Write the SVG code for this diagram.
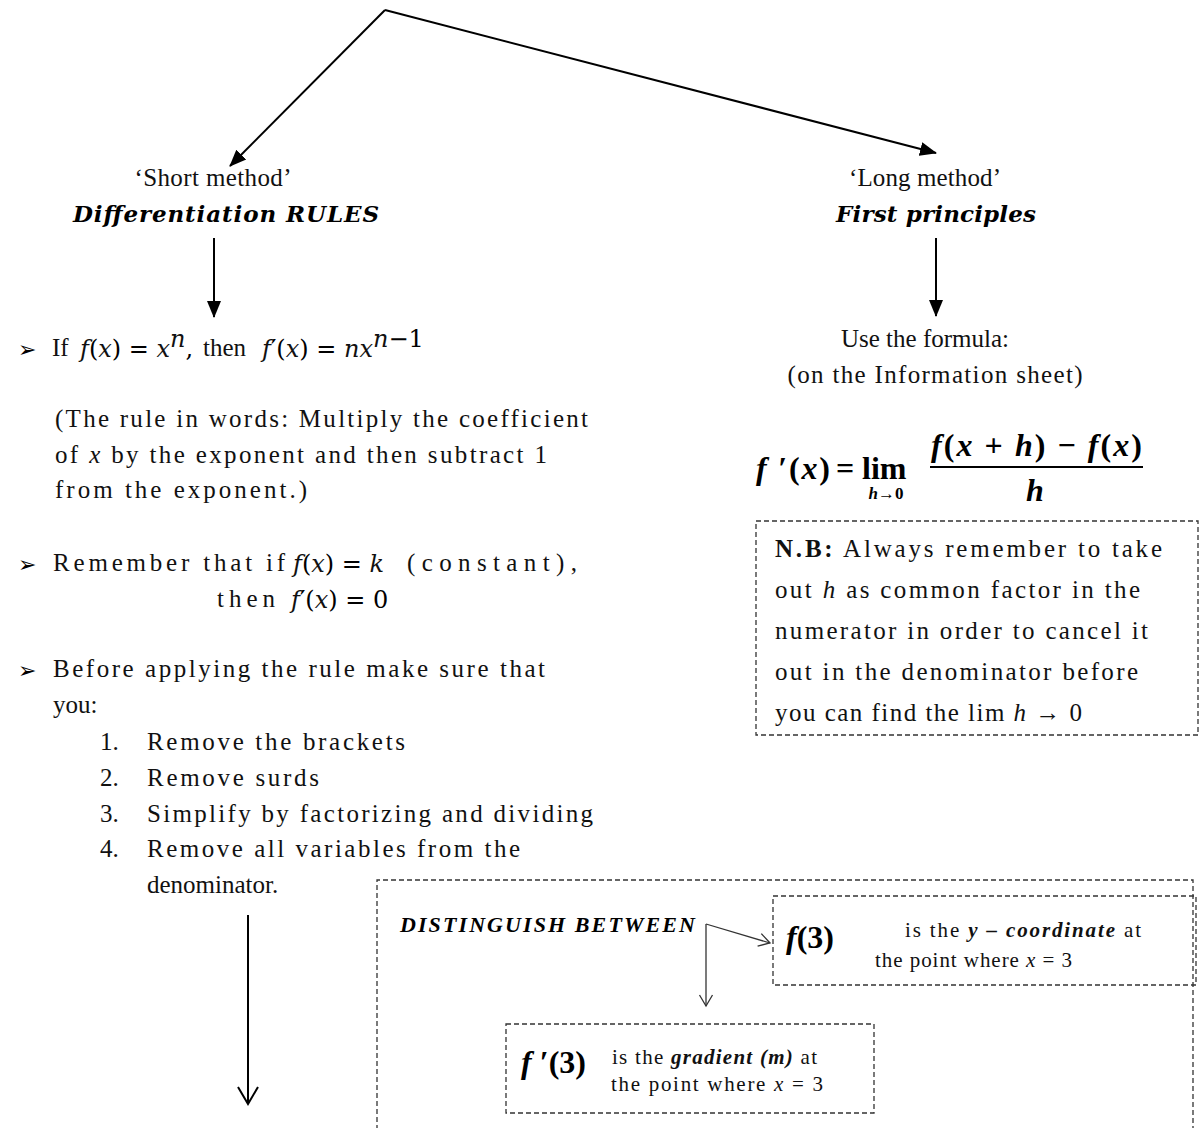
<svg xmlns="http://www.w3.org/2000/svg" width="1202" height="1128" viewBox="0 0 1202 1128">
<style>
.t{font-family:"Liberation Serif","Times New Roman",serif;font-size:25px;fill:#111}
.m{font-family:"DejaVu Serif",serif;font-style:italic;font-size:24px;fill:#111}
.r{font-family:"DejaVu Serif",serif;font-style:normal;font-size:24px}
.bi{font-family:"DejaVu Serif","Liberation Serif",serif;font-weight:bold;font-style:italic;fill:#000}
.s{font-family:"Liberation Serif",serif;font-size:21px;fill:#111}
.b{font-family:"DejaVu Sans",sans-serif;font-size:22px;fill:#000}
.dash{fill:none;stroke:#333;stroke-width:1.3;stroke-dasharray:5 3}
.conn{fill:none;stroke:#000;stroke-width:2}
.thin{fill:none;stroke:#333;stroke-width:1.3}
.fm{font-family:"Liberation Serif",serif;font-weight:bold;font-size:32px;fill:#000}
</style>
<defs>
<marker id="tri" markerUnits="userSpaceOnUse" markerWidth="18" markerHeight="16" refX="16" refY="8" orient="auto"><path d="M0,1 L17,8 L0,15 z" fill="#000"/></marker>
<marker id="vee" markerUnits="userSpaceOnUse" markerWidth="20" markerHeight="24" refX="18" refY="12" orient="auto"><path d="M1,2 L18,12 L1,22" fill="none" stroke="#000" stroke-width="2"/></marker>
<marker id="vees" markerUnits="userSpaceOnUse" markerWidth="14" markerHeight="16" refX="12" refY="8" orient="auto"><path d="M1,1.5 L12,8 L1,14.5" fill="none" stroke="#333" stroke-width="1.3"/></marker>
</defs>
<rect width="1202" height="1128" fill="#fff"/>

<g id="connectors">
<line class="conn" x1="385" y1="10" x2="230" y2="166" marker-end="url(#tri)"/>
<line class="conn" x1="385" y1="10" x2="936" y2="153" marker-end="url(#tri)"/>
<line class="conn" x1="214" y1="238" x2="214" y2="317" marker-end="url(#tri)"/>
<line class="conn" x1="936" y1="238" x2="936" y2="316" marker-end="url(#tri)"/>
<line class="conn" x1="248" y1="915" x2="248" y2="1104" marker-end="url(#vee)"/>
<line class="thin" x1="706" y1="924" x2="770" y2="943" marker-end="url(#vees)"/>
<line class="thin" x1="706" y1="924" x2="706" y2="1006" marker-end="url(#vees)"/>
</g>

<g id="short-method">
<text class="t" x="213" y="186" text-anchor="middle" textLength="157">‘Short method’</text>
<text class="bi" x="226" y="222" text-anchor="middle" font-size="23" textLength="306">Differentiation RULES</text>
</g>

<g id="long-method">
<text class="t" x="925" y="186" text-anchor="middle" textLength="152">‘Long method’</text>
<text class="bi" x="936" y="222" text-anchor="middle" font-size="23" textLength="200">First principles</text>
</g>

<g id="rules">
<text class="b" x="18" y="357">➢</text>
<text class="t" x="52" y="356">If</text>
<text x="80" y="357"><tspan class="m">f</tspan><tspan class="r">(</tspan><tspan class="m">x</tspan><tspan class="r">) = </tspan><tspan class="m">x</tspan><tspan class="m" font-size="16" dy="-10">n</tspan><tspan class="r" dy="10">,</tspan></text>
<text class="t" x="203" y="356">then</text>
<text x="262" y="357"><tspan class="m">f</tspan><tspan class="r">′(</tspan><tspan class="m">x</tspan><tspan class="r">) = </tspan><tspan class="m">nx</tspan><tspan class="m" font-size="16" dy="-10">n</tspan><tspan class="r" font-size="16">−1</tspan></text>
<text class="t" x="55" y="427" textLength="533">(The rule in words: Multiply the coefficient</text>
<text class="t" x="55" y="463" textLength="492">of <tspan font-style="italic">x</tspan> by the exponent and then subtract 1</text>
<text class="t" x="55" y="498" textLength="252">from the exponent.)</text>

<text class="b" x="18" y="572">➢</text>
<text class="t" x="53" y="571" textLength="232">Remember that if</text>
<text x="293" y="572"><tspan class="m">f</tspan><tspan class="r">(</tspan><tspan class="m">x</tspan><tspan class="r">) = </tspan><tspan class="m">k</tspan></text>
<text class="t" x="407" y="571" textLength="170">(constant),</text>
<text class="t" x="217" y="607" textLength="58">then</text>
<text x="291" y="608"><tspan class="m">f</tspan><tspan class="r">′(</tspan><tspan class="m">x</tspan><tspan class="r">) = 0</tspan></text>

<text class="b" x="18" y="678">➢</text>
<text class="t" x="53" y="677" textLength="492">Before applying the rule make sure that</text>
<text class="t" x="53" y="713">you:</text>

<text class="t" x="100" y="750">1.</text>
<text class="t" x="147" y="750" textLength="258">Remove the brackets</text>
<text class="t" x="100" y="786">2.</text>
<text class="t" x="147" y="786" textLength="172">Remove surds</text>
<text class="t" x="100" y="822">3.</text>
<text class="t" x="147" y="822" textLength="446">Simplify by factorizing and dividing</text>
<text class="t" x="100" y="857">4.</text>
<text class="t" x="147" y="857" textLength="373">Remove all variables from the</text>
<text class="t" x="147" y="893">denominator.</text>
</g>

<g id="formula">
<text class="t" x="925" y="347" text-anchor="middle">Use the formula:</text>
<text class="t" x="935" y="383" text-anchor="middle" textLength="295">(on the Information sheet)</text>
<text class="fm" x="756" y="479" textLength="74"><tspan font-style="italic">f</tspan> ′(<tspan font-style="italic">x</tspan>)</text>
<text class="fm" x="836" y="479">=</text>
<text class="fm" x="862" y="479" font-size="34">lim</text>
<text x="886" y="499" text-anchor="middle" font-family="Liberation Serif" font-weight="bold" font-size="17"><tspan font-style="italic">h</tspan>→0</text>
<line x1="930" y1="467" x2="1143" y2="467" stroke="#000" stroke-width="2"/>
<text class="fm" x="931" y="456" textLength="211"><tspan font-style="italic">f</tspan>(<tspan font-style="italic">x</tspan> + <tspan font-style="italic">h</tspan>) − <tspan font-style="italic">f</tspan>(<tspan font-style="italic">x</tspan>)</text>
<text class="fm" x="1035" y="501" text-anchor="middle" font-style="italic">h</text>
</g>

<g id="nb-box">
<rect class="dash" x="756" y="521" width="442" height="214"/>
<text class="t" x="775" y="557" textLength="387"><tspan font-weight="bold">N.B:</tspan> Always remember to take</text>
<text class="t" x="775" y="598" textLength="365">out <tspan font-style="italic">h</tspan> as common factor in the</text>
<text class="t" x="775" y="639" textLength="373">numerator in order to cancel it</text>
<text class="t" x="775" y="680" textLength="363">out in the denominator before</text>
<text class="t" x="775" y="721" textLength="307">you can find the lim <tspan font-style="italic">h</tspan> → 0</text>
</g>

<g id="distinguish">
<path class="dash" d="M377,1130 L377,880 L1193,880 L1193,1130"/>
<text x="400" y="932" font-family="Liberation Serif" font-weight="bold" font-style="italic" font-size="22" textLength="295">DISTINGUISH BETWEEN</text>
</g>

<g id="f3-box">
<rect class="dash" x="773" y="896" width="423" height="89"/>
<text class="fm" x="786" y="948" font-size="40"><tspan font-style="italic">f</tspan>(3)</text>
<text class="s" x="905" y="937" textLength="236">is the  <tspan font-weight="bold" font-style="italic">y – coordinate</tspan> at</text>
<text class="s" x="875" y="967" textLength="197">the point where <tspan font-style="italic">x</tspan> = 3</text>
</g>

<g id="fprime3-box">
<rect class="dash" x="506" y="1024" width="368" height="89"/>
<text class="fm" x="521" y="1073" font-size="40"><tspan font-style="italic">f</tspan> ′(3)</text>
<text class="s" x="612" y="1064" textLength="205">is the <tspan font-weight="bold" font-style="italic">gradient (m)</tspan> at</text>
<text class="s" x="611" y="1091" textLength="212">the point where <tspan font-style="italic">x</tspan> = 3</text>
</g>
</svg>
